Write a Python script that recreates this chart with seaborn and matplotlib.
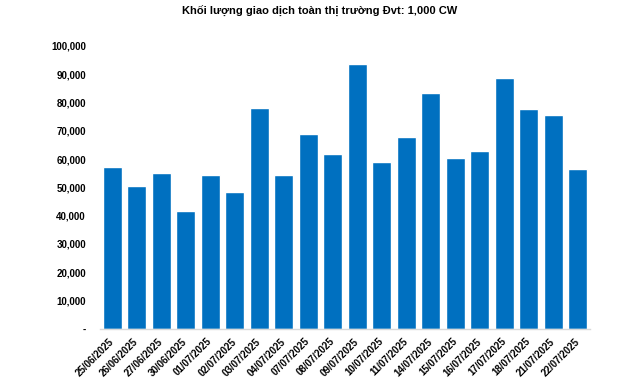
import matplotlib
matplotlib.use("Agg")
import matplotlib.pyplot as plt
import seaborn as sns
import pandas as pd
from matplotlib.ticker import FuncFormatter

dates = ["25/06/2025", "26/06/2025", "27/06/2025", "30/06/2025", "01/07/2025",
         "02/07/2025", "03/07/2025", "04/07/2025", "07/07/2025", "08/07/2025",
         "09/07/2025", "10/07/2025", "11/07/2025", "14/07/2025", "15/07/2025",
         "16/07/2025", "17/07/2025", "18/07/2025", "21/07/2025", "22/07/2025"]
volumes = [57000, 50300, 54900, 41800, 54200, 48200, 77900, 54200, 68700, 61600,
           93400, 58800, 67600, 83500, 60200, 63000, 88800, 77500, 75400, 56600]

df = pd.DataFrame({"date": dates, "volume": volumes})

sns.set_theme(style="white")
plt.rcParams["font.family"] = ["Liberation Sans", "DejaVu Sans"]
plt.rcParams["text.color"] = "black"
plt.rcParams["xtick.color"] = "black"
plt.rcParams["ytick.color"] = "black"

fig = plt.figure(figsize=(6.4, 3.85), dpi=100)
ax = fig.add_axes([0.156, 0.146, 0.766, 0.735])

sns.barplot(data=df, x="date", y="volume", color="#0070C0", saturation=1,
            width=0.78, ax=ax)

ax.set_ylim(0, 100000)
ax.set_yticks(range(0, 100001, 10000))
ax.yaxis.set_major_formatter(FuncFormatter(lambda v, p: "-" if v == 0 else f"{int(v):,}"))
ax.set_xlim(-0.5, len(dates) - 0.5)
ax.set_xlabel("")
ax.set_ylabel("")

for s in ["top", "right", "left"]:
    ax.spines[s].set_visible(False)
ax.spines["bottom"].set_color("#D9D9D9")
ax.spines["bottom"].set_linewidth(1)

ax.tick_params(axis="y", length=0, pad=10, labelsize=7, labelcolor="black")
ax.tick_params(axis="x", length=0, pad=8, labelsize=7, labelcolor="black")
for lbl in ax.get_yticklabels():
    lbl.set_fontweight("bold")
for lbl in ax.get_xticklabels():
    lbl.set_fontweight("bold")
    lbl.set_rotation(45)
    lbl.set_ha("right")
    lbl.set_va("center")
    lbl.set_rotation_mode("anchor")

fig.text(0.5, 0.985, "Khối lượng giao dịch toàn thị trường Đvt: 1,000 CW",
         ha="center", va="top", fontsize=8, fontweight="bold", color="black")

fig.savefig("out.png", dpi=100)
